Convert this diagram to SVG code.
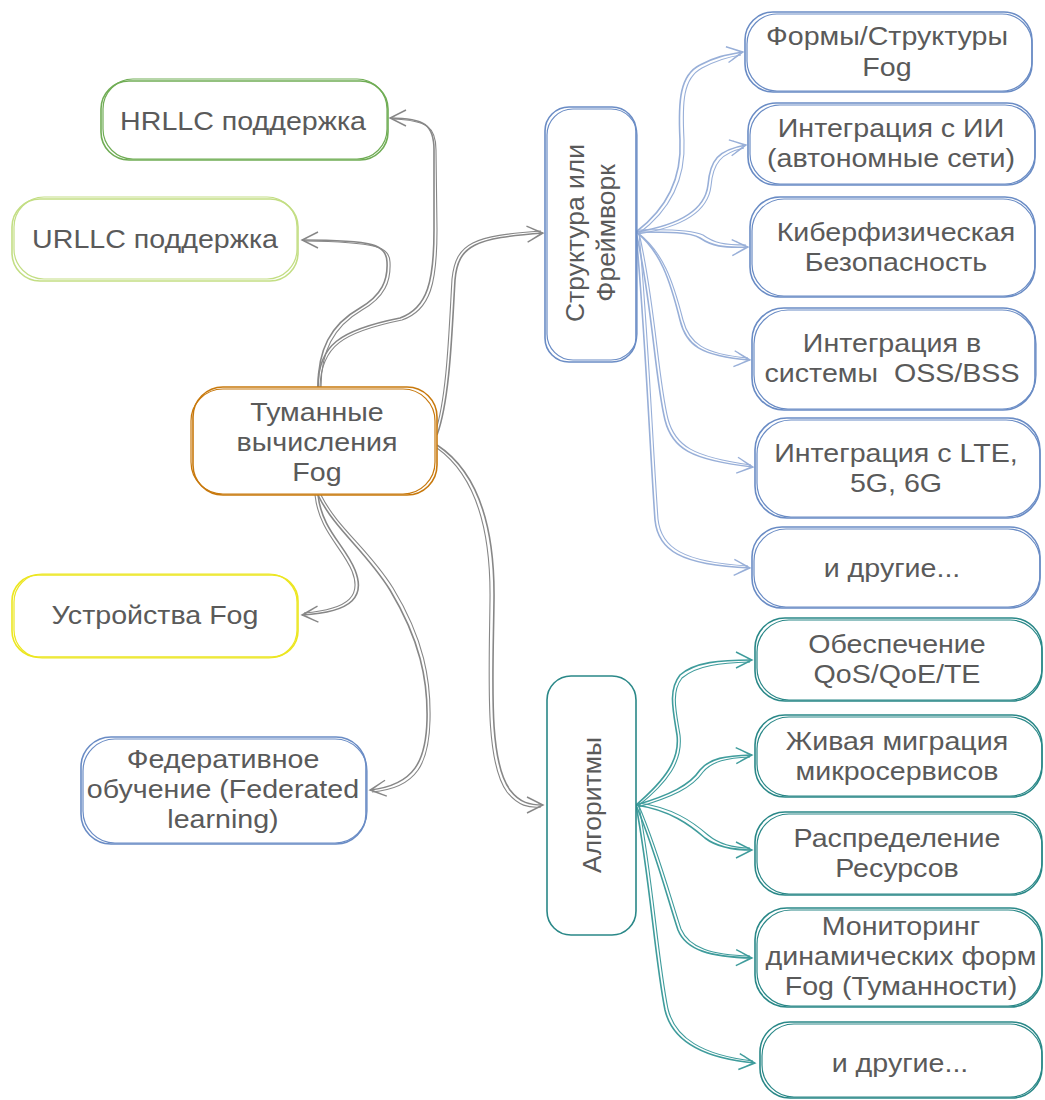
<svg xmlns="http://www.w3.org/2000/svg" width="1045" height="1100" viewBox="0 0 1045 1100">
  <style>
    .t { font-family: "Liberation Sans", Arial, sans-serif; font-size: 26px; fill: #5a5a5a; text-anchor: middle; }
    .tv { font-family: "Liberation Sans", Arial, sans-serif; font-size: 26.5px; fill: #5a5a5a; text-anchor: middle; }
    .box { fill: #ffffff; stroke-width: 1.6; }
    .box2 { fill: none; stroke-width: 1.2; }
    .c { fill: none; stroke-width: 1.6; }
    .c2 { fill: none; stroke-width: 1.1; }
    .gray { stroke: #878787; }
    .blue-l { stroke: #98afd8; }
    .teal-l { stroke: #3f9c9c; }
  </style>
  <defs>
    <marker id="ah-gray" viewBox="0 0 20 20" refX="18" refY="10" markerWidth="20" markerHeight="20" markerUnits="userSpaceOnUse" orient="auto">
      <path d="M2,2 L18,10 L2,18 M6,4 L17,10 L6,16" fill="none" stroke="#878787" stroke-width="1.4"/>
    </marker>
    <marker id="ah-blue" viewBox="0 0 20 20" refX="18" refY="10" markerWidth="20" markerHeight="20" markerUnits="userSpaceOnUse" orient="auto">
      <path d="M2,2 L18,10 L2,18 M6,4 L17,10 L6,16" fill="none" stroke="#98afd8" stroke-width="1.4"/>
    </marker>
    <marker id="ah-teal" viewBox="0 0 20 20" refX="18" refY="10" markerWidth="20" markerHeight="20" markerUnits="userSpaceOnUse" orient="auto">
      <path d="M2,2 L18,10 L2,18 M6,4 L17,10 L6,16" fill="none" stroke="#3f9c9c" stroke-width="1.4"/>
    </marker>
  </defs>

  <rect width="1045" height="1100" fill="#ffffff"/>

  <!-- connectors -->
  <g id="connectors">
    <!-- center to left nodes -->
    <path class="c gray" d="M318,387 C318,345 340,330 400,318 C428,308 434,280 434,230 L434,150 C434,125 425,118 390,118" marker-end="url(#ah-gray)"/>
    <path class="c2 gray" d="M320,387 C321,346 343,332 402,320 C431,310 437,282 437,230 L436,150 C436,127 427,120 392,119"/>
    <path class="c gray" d="M318,387 C318,350 330,325 360,308 C382,295 388,280 387,262 C386,245 375,240 302,240" marker-end="url(#ah-gray)"/>
    <path class="c2 gray" d="M321,387 C321,352 333,327 362,310 C385,297 391,281 390,262 C389,247 378,242 304,241"/>
    <path class="c gray" d="M318,495 C322,530 345,545 355,570 C365,595 355,612 302,615" marker-end="url(#ah-gray)"/>
    <path class="c2 gray" d="M315,495 C319,531 342,547 352,571 C361,594 352,609 304,613"/>
    <path class="c gray" d="M318,495 C335,530 365,550 390,590 C420,640 428,680 427,720 C426,760 415,785 370,790" marker-end="url(#ah-gray)"/>
    <path class="c2 gray" d="M321,495 C338,529 368,548 393,588 C424,639 431,680 430,720 C429,762 418,788 372,792"/>
    <!-- center to group nodes -->
    <path class="c gray" d="M437,435 C450,400 452,330 455,280 C458,245 475,238 543,233" marker-end="url(#ah-gray)"/>
    <path class="c2 gray" d="M435,433 C447,398 449,330 452,279 C456,242 474,236 541,231"/>
    <path class="c gray" d="M437,445 C475,470 495,520 494,600 C493,680 488,760 510,790 C520,803 530,805 543,805" marker-end="url(#ah-gray)"/>
    <path class="c2 gray" d="M437,448 C472,473 491,522 490,600 C489,682 485,762 507,792 C518,806 529,808 541,807"/>

    <!-- framework branch -->
    <path class="c blue-l" d="M636,232 C665,210 682,180 680,140 C678,100 680,75 700,65 C715,57 725,55 743,52" marker-end="url(#ah-blue)"/>
    <path class="c2 blue-l" d="M638,234 C668,212 686,182 684,140 C682,102 683,78 702,68 C717,60 727,57 741,55"/>
    <path class="c blue-l" d="M636,232 C680,225 705,210 708,185 C710,160 718,150 746,145" marker-end="url(#ah-blue)"/>
    <path class="c2 blue-l" d="M638,234 C683,227 708,212 711,186 C713,163 721,153 744,148"/>
    <path class="c blue-l" d="M636,232 C670,232 690,232 700,238 C712,246 722,248 748,247" marker-end="url(#ah-blue)"/>
    <path class="c2 blue-l" d="M638,230 C672,229 692,230 703,235 C714,243 724,245 746,245"/>
    <path class="c blue-l" d="M636,232 C660,250 670,280 680,320 C686,345 700,356 750,360" marker-end="url(#ah-blue)"/>
    <path class="c2 blue-l" d="M638,233 C663,252 673,281 683,320 C689,343 703,354 748,358"/>
    <path class="c blue-l" d="M636,232 C652,300 655,380 665,420 C672,448 690,460 753,467" marker-end="url(#ah-blue)"/>
    <path class="c2 blue-l" d="M639,233 C655,300 658,380 668,419 C675,446 693,457 751,465"/>
    <path class="c blue-l" d="M636,232 C645,330 650,450 655,520 C658,550 680,565 750,568" marker-end="url(#ah-blue)"/>
    <path class="c2 blue-l" d="M639,233 C648,330 653,450 658,519 C661,548 683,562 748,566"/>

    <!-- algorithms branch -->
    <path class="c teal-l" d="M636,805 C665,780 680,760 677,735 C673,710 668,690 680,675 C695,662 720,660 752,660" marker-end="url(#ah-teal)"/>
    <path class="c2 teal-l" d="M638,806 C668,782 683,761 680,735 C676,711 671,692 682,678 C697,665 722,663 750,662"/>
    <path class="c teal-l" d="M636,805 C670,795 690,785 700,770 C710,758 725,756 752,755" marker-end="url(#ah-teal)"/>
    <path class="c2 teal-l" d="M638,807 C672,797 692,788 703,772 C712,761 727,758 750,757"/>
    <path class="c teal-l" d="M636,805 C670,810 690,825 705,838 C718,848 735,850 752,850" marker-end="url(#ah-teal)"/>
    <path class="c2 teal-l" d="M638,803 C672,807 693,822 708,835 C720,845 736,848 750,848"/>
    <path class="c teal-l" d="M636,805 C655,850 668,900 678,930 C686,950 710,957 752,958" marker-end="url(#ah-teal)"/>
    <path class="c2 teal-l" d="M639,806 C658,850 671,899 681,929 C689,948 712,955 750,956"/>
    <path class="c teal-l" d="M636,805 C650,880 655,960 665,1010 C672,1040 700,1058 755,1063" marker-end="url(#ah-teal)"/>
    <path class="c2 teal-l" d="M639,806 C653,880 658,960 668,1009 C675,1038 702,1055 753,1061"/>
  </g>

  <!-- central node -->
  <g id="fog">
    <rect class="box" x="193" y="387" width="244" height="108" rx="30" stroke="#c8790d"/>
    <rect class="box2" x="191" y="389" width="244" height="105" rx="32" stroke="#c8790d"/>
    <text class="t" transform="translate(317,421) scale(1.1,1)"><tspan x="0" y="0">Туманные</tspan><tspan x="0" y="30">вычисления</tspan><tspan x="0" y="60">Fog</tspan></text>
  </g>

  <!-- left nodes -->
  <g id="hrllc">
    <rect class="box" x="101" y="81" width="287" height="79" rx="28" stroke="#70ad55"/>
    <rect class="box2" x="103" y="79" width="284" height="80" rx="30" stroke="#70ad55"/>
    <text class="t" transform="translate(243,130) scale(1.1,1)">HRLLC поддержка</text>
  </g>
  <g id="urllc">
    <rect class="box" x="12" y="199" width="286" height="82" rx="28" stroke="#c3de84"/>
    <rect class="box2" x="14" y="197" width="283" height="82" rx="30" stroke="#c3de84"/>
    <text class="t" transform="translate(155,248) scale(1.1,1)">URLLC поддержка</text>
  </g>
  <g id="devices">
    <rect class="box" x="12" y="575" width="286" height="82" rx="26" stroke="#ece621"/>
    <rect class="box2" x="14" y="574" width="283" height="84" rx="28" stroke="#ece621"/>
    <text class="t" transform="translate(155,624) scale(1.1,1)">Устройства Fog</text>
  </g>
  <g id="federated">
    <rect class="box" x="81" y="737" width="285" height="107" rx="30" stroke="#6a8cc5"/>
    <rect class="box2" x="83" y="739" width="284" height="104" rx="32" stroke="#6a8cc5"/>
    <text class="t" transform="translate(223,768) scale(1.1,1)"><tspan x="0" y="0">Федеративное</tspan><tspan x="0" y="30">обучение (Federated</tspan><tspan x="0" y="60">learning)</tspan></text>
  </g>

  <!-- framework group -->
  <g id="framework">
    <rect class="box" x="545" y="107" width="91" height="255" rx="24" stroke="#6a8cc5"/>
    <rect class="box2" x="547" y="109" width="90" height="251" rx="26" stroke="#6a8cc5"/>
    <text class="tv" transform="translate(584,233) rotate(-90)">Структура или</text>
    <text class="tv" transform="translate(615,233) rotate(-90)">Фреймворк</text>
  </g>
  <g id="fw-forms">
    <rect class="box" x="745" y="12" width="287" height="80" rx="28" stroke="#6a8cc5"/>
    <rect class="box2" x="747" y="14" width="285" height="77" rx="30" stroke="#6a8cc5"/>
    <text class="t" transform="translate(887,45) scale(1.1,1)"><tspan x="0" y="0">Формы/Структуры</tspan><tspan x="0" y="31">Fog</tspan></text>
  </g>
  <g id="fw-ai">
    <rect class="box" x="748" y="103" width="287" height="82" rx="28" stroke="#6a8cc5"/>
    <rect class="box2" x="750" y="105" width="285" height="79" rx="30" stroke="#6a8cc5"/>
    <text class="t" transform="translate(891,137) scale(1.1,1)"><tspan x="0" y="0">Интеграция с ИИ</tspan><tspan x="0" y="30">(автономные сети)</tspan></text>
  </g>
  <g id="fw-cyber">
    <rect class="box" x="750" y="197" width="285" height="100" rx="30" stroke="#6a8cc5"/>
    <rect class="box2" x="752" y="199" width="283" height="97" rx="32" stroke="#6a8cc5"/>
    <text class="t" transform="translate(896,241) scale(1.1,1)"><tspan x="0" y="0">Киберфизическая</tspan><tspan x="0" y="30">Безопасность</tspan></text>
  </g>
  <g id="fw-oss">
    <rect class="box" x="752" y="308" width="283" height="102" rx="32" stroke="#6a8cc5"/>
    <rect class="box2" x="754" y="310" width="282" height="99" rx="34" stroke="#6a8cc5"/>
    <text class="t" transform="translate(892,352) scale(1.1,1)" xml:space="preserve"><tspan x="0" y="0">Интеграция в</tspan><tspan x="0" y="30">системы  OSS/BSS</tspan></text>
  </g>
  <g id="fw-lte">
    <rect class="box" x="755" y="418" width="285" height="100" rx="32" stroke="#6a8cc5"/>
    <rect class="box2" x="757" y="420" width="283" height="97" rx="34" stroke="#6a8cc5"/>
    <text class="t" transform="translate(896,462) scale(1.1,1)"><tspan x="0" y="0">Интеграция с LTE,</tspan><tspan x="0" y="30">5G, 6G</tspan></text>
  </g>
  <g id="fw-other">
    <rect class="box" x="752" y="527" width="288" height="81" rx="30" stroke="#6a8cc5"/>
    <rect class="box2" x="754" y="529" width="286" height="78" rx="32" stroke="#6a8cc5"/>
    <text class="t" transform="translate(892,577) scale(1.1,1)">и другие...</text>
  </g>

  <!-- algorithms group -->
  <g id="algorithms">
    <rect class="box" x="547" y="676" width="89" height="259" rx="24" stroke="#2a8888"/>
    <text class="tv" transform="translate(601,805) rotate(-90)">Алгоритмы</text>
  </g>
  <g id="alg-qos">
    <rect class="box" x="755" y="618" width="287" height="83" rx="30" stroke="#2a8888"/>
    <rect class="box2" x="757" y="620" width="285" height="80" rx="32" stroke="#2a8888"/>
    <text class="t" transform="translate(897,653) scale(1.1,1)"><tspan x="0" y="0">Обеспечение</tspan><tspan x="0" y="30">QoS/QoE/TE</tspan></text>
  </g>
  <g id="alg-migration">
    <rect class="box" x="755" y="715" width="287" height="82" rx="30" stroke="#2a8888"/>
    <rect class="box2" x="757" y="717" width="285" height="79" rx="32" stroke="#2a8888"/>
    <text class="t" transform="translate(897,750) scale(1.1,1)"><tspan x="0" y="0">Живая миграция</tspan><tspan x="0" y="30">микросервисов</tspan></text>
  </g>
  <g id="alg-resources">
    <rect class="box" x="755" y="812" width="287" height="83" rx="30" stroke="#2a8888"/>
    <rect class="box2" x="757" y="814" width="285" height="80" rx="32" stroke="#2a8888"/>
    <text class="t" transform="translate(897,847) scale(1.1,1)"><tspan x="0" y="0">Распределение</tspan><tspan x="0" y="30">Ресурсов</tspan></text>
  </g>
  <g id="alg-monitoring">
    <rect class="box" x="755" y="908" width="287" height="99" rx="32" stroke="#2a8888"/>
    <rect class="box2" x="757" y="910" width="285" height="96" rx="34" stroke="#2a8888"/>
    <text class="t" transform="translate(901,935) scale(1.1,1)"><tspan x="0" y="0">Мониторинг</tspan><tspan x="0" y="30">динамических форм</tspan><tspan x="0" y="60">Fog (Туманности)</tspan></text>
  </g>
  <g id="alg-other">
    <rect class="box" x="760" y="1022" width="282" height="76" rx="30" stroke="#2a8888"/>
    <rect class="box2" x="762" y="1024" width="280" height="73" rx="32" stroke="#2a8888"/>
    <text class="t" transform="translate(900,1072) scale(1.1,1)">и другие...</text>
  </g>
</svg>
